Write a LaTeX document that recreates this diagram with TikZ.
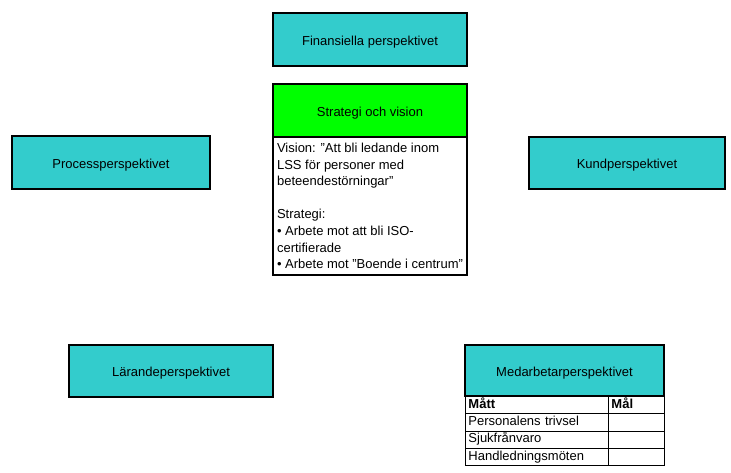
\documentclass[tikz,border=0pt]{standalone}
\usepackage{fontspec}
\setmainfont{Liberation Sans}
\usepackage{xcolor}
\usepackage{tikz}
\usetikzlibrary{positioning}
\definecolor{turkos}{RGB}{51,204,204}
\definecolor{gron}{RGB}{0,255,0}
\tikzstyle{persp} = [draw=black, line width=2pt, fill=turkos, minimum width=194pt, minimum height=53pt, inner sep=0pt, outer sep=0pt, text height=11pt, text depth=0pt, font=\fontsize{13}{15}\selectfont]
\tikzstyle{textruta} = [draw=black, line width=2pt, fill=white, minimum width=194pt, minimum height=138pt, inner sep=3pt, outer sep=0pt, align=left, font=\fontsize{13}{16.6}\selectfont]
\tikzstyle{cell} = [draw=black, line width=0.9pt, anchor=north west, minimum height=17.25pt, inner xsep=3pt, inner ysep=2pt, text height=9.5pt, text depth=3pt, align=left, font=\fontsize{13}{15}\selectfont]

\begin{document}
\begin{tikzpicture}[x=1pt, y=-1pt]
            \useasboundingbox (0,0) rectangle (731,472);

            \node[persp] (fin) at (370,39.5) {Finansiella perspektivet};
            \node[persp, fill=gron] (strat) at (370,110.5) {Strategi och vision};
            \node[textruta, below=0pt of strat] (vision) {Vision: "Att bli ledande inom\\
                LSS för personer med\\
                beteendestörningar"\\
                \mbox{}\\
                Strategi:\\
                • Arbete mot att bli ISO-\\
                certifierade\\
                • Arbete mot "Boende i centrum"};

            \node[persp, minimum width=198pt] (proc) at (111,162.5) {Processperspektivet};
            \node[persp, minimum width=196pt, minimum height=52pt] (kund) at (627,162.5) {Kundperspektivet};
            \node[persp, minimum width=204pt, minimum height=52pt] (lar) at (171,371) {Lärandeperspektivet};
            \node[persp, minimum width=199pt, minimum height=51pt] (med) at (564.5,370.5) {Medarbetarperspektivet};

            % tabell under medarbetarperspektivet
            \node[cell, text width=137pt, font=\fontsize{13}{15}\selectfont\bfseries] (matt) at (465,396) {Mått};
            \node[cell, text width=50pt, font=\fontsize{13}{15}\selectfont\bfseries] (mal) at (608,396) {Mål};
            \node[cell, text width=137pt] (trivsel) at (465,413.25) {Personalens trivsel};
            \node[cell, text width=50pt] (mal1) at (608,413.25) {};
            \node[cell, text width=137pt] (sjuk) at (465,430.5) {Sjukfrånvaro};
            \node[cell, text width=50pt] (mal2) at (608,430.5) {};
            \node[cell, text width=137pt] (handl) at (465,447.75) {Handledningsmöten};
            \node[cell, text width=50pt] (mal3) at (608,447.75) {};
        \end{tikzpicture}
\end{document}
